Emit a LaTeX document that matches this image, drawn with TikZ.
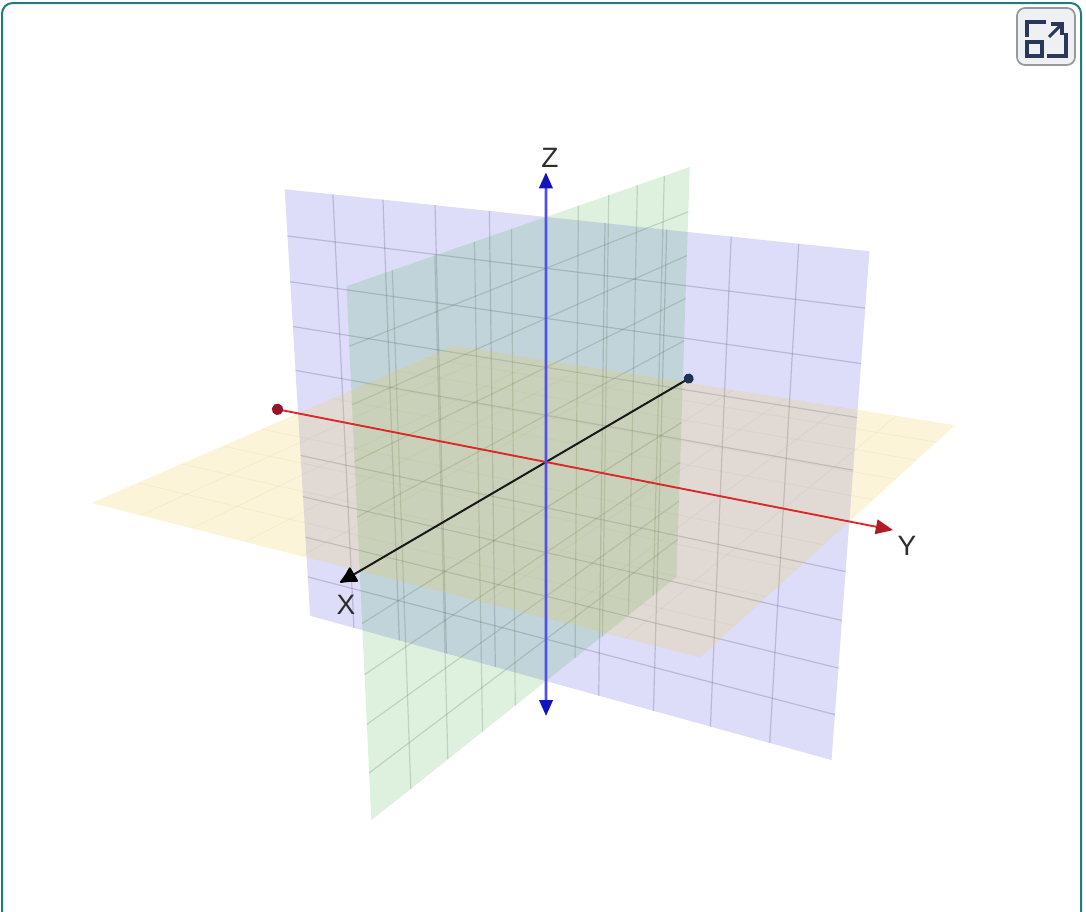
\documentclass[tikz,border=0pt]{standalone}
\usepackage{fontspec}
\setmainfont{Liberation Sans}
\usetikzlibrary{arrows.meta}
\definecolor{frameteal}{RGB}{30,125,125}
\definecolor{iconnavy}{RGB}{40,55,90}
\definecolor{iconfill}{RGB}{238,240,243}
\definecolor{icondraw}{RGB}{150,152,156}
\definecolor{planeblue}{RGB}{100,100,230}
\definecolor{planegreen}{RGB}{60,170,60}
\definecolor{planeyellow}{RGB}{240,200,60}
\definecolor{gridblue}{RGB}{70,70,110}
\definecolor{gridgreen}{RGB}{60,90,60}
\definecolor{gridyellow}{RGB}{150,130,60}
\definecolor{zblue}{RGB}{80,80,235}
\definecolor{zbluedark}{RGB}{20,20,190}
\definecolor{yred}{RGB}{220,40,40}
\definecolor{yreddark}{RGB}{150,20,40}
\definecolor{xblack}{RGB}{25,25,25}
\definecolor{xnavy}{RGB}{30,50,85}
\definecolor{labelgray}{RGB}{45,45,45}
% perspective camera: world (x,y,z), planes span [-1,1]
\def\camproj#1,#2,#3\relax{%
  \pgfmathsetmacro\camd{1-0.1532*(#1)-0.1005*(#2)-0.056*(#3)}%
  \pgfmathsetmacro\camu{(546-241.4*(#1)+218*(#2)-30.6*(#3))/\camd}%
  \pgfmathsetmacro\camv{(462+21.5*(#1)+7.1*(#2)-257.2*(#3))/\camd}%
  \pgfpointxy{\camu}{\camv}}
\tikzdeclarecoordinatesystem{cam}{\camproj#1\relax}
\tikzset{
  blueplane/.style={fill=planeblue,fill opacity=0.22},
  greenplane/.style={fill=planegreen,fill opacity=0.17},
  yellowplane/.style={fill=planeyellow,fill opacity=0.2},
  bluegrid/.style={draw=gridblue,draw opacity=0.24,line width=0.9pt},
  greengrid/.style={draw=gridgreen,draw opacity=0.2,line width=0.9pt},
  yellowgrid/.style={draw=gridyellow,draw opacity=0.06,line width=0.8pt},
  zaxisline/.style={draw=zblue,line width=2.1pt},
  yaxisline/.style={draw=yred,line width=1.4pt},
  xaxisline/.style={draw=xblack,line width=1.5pt},
  axlabel/.style={text=labelgray,font=\fontsize{21}{24}\selectfont,inner sep=0pt},
  iconline/.style={draw=iconnavy,line width=2.3pt,line cap=butt,line join=miter}
}
\begin{document}
\begin{tikzpicture}[x=0.75pt,y=-0.75pt]
\useasboundingbox (0,0) rectangle (1086,911);
\clip (0,0) rectangle (1086,911);
% frame
\draw[frameteal,line width=1.5pt,rounded corners=8] (2,930) -- (2,3) -- (1081,3) -- (1081,930);
% fullscreen icon
\draw[draw=icondraw,fill=iconfill,line width=1.3pt,rounded corners=6] (1017,8) rectangle (1075,65);
\draw[iconline] (1046,22) -- (1027,22) -- (1027,37);
\draw[iconline] (1027,42) rectangle (1042,56);
\draw[iconline] (1047,56) -- (1066,56) -- (1066,33);
\draw[iconline] (1049,37) -- (1061,25);
\draw[iconline] (1051,24) -- (1062,24) -- (1062,35);
% blue plane (x = 0)
\fill[blueplane] (cam cs:0,-1,1) -- (cam cs:0,1,1) -- (cam cs:0,1,-1) -- (cam cs:0,-1,-1) -- cycle;
\foreach \k in {1,...,9}{
  \pgfmathsetmacro\tv{-1+0.2*\k}
  \draw[bluegrid] (cam cs:0,\tv,-1) -- (cam cs:0,\tv,1);
  \draw[bluegrid] (cam cs:0,-1,\tv) -- (cam cs:0,1,\tv);
}
% green plane (y = 0)
\fill[greenplane] (cam cs:1,0,1) -- (cam cs:-1,0,1) -- (cam cs:-1,0,-1) -- (cam cs:1,0,-1) -- cycle;
\foreach \k in {1,...,9}{
  \pgfmathsetmacro\tv{-1+0.2*\k}
  \draw[greengrid] (cam cs:\tv,0,-1) -- (cam cs:\tv,0,1);
  \draw[greengrid] (cam cs:-1,0,\tv) -- (cam cs:1,0,\tv);
}
% yellow plane (z = 0)
\fill[yellowplane] (cam cs:1,-1,0) -- (cam cs:-1,-1,0) -- (cam cs:-1,1,0) -- (cam cs:1,1,0) -- cycle;
\foreach \k in {1,...,9}{
  \pgfmathsetmacro\tv{-1+0.2*\k}
  \draw[yellowgrid] (cam cs:\tv,-1,0) -- (cam cs:\tv,1,0);
  \draw[yellowgrid] (cam cs:-1,\tv,0) -- (cam cs:1,\tv,0);
}
% axes
\coordinate (xn) at (cam cs:-1.087,0,0);
\coordinate (xp) at (cam cs:1.088,0,0);
\coordinate (yn) at (cam cs:0,-1.117,0);
\coordinate (yp) at (cam cs:0,1.128,0);
\coordinate (zn) at (cam cs:0,0,-1.17);
\coordinate (zp) at (cam cs:0,0,1.17);
\draw[xaxisline,{Circle[length=7.5pt,color=xnavy]}-{Latex[length=14pt,width=14pt,color=black,round]}] (xn) -- (xp);
\draw[yaxisline,{Circle[length=8.5pt,color=yreddark]}-{Triangle[length=13pt,width=11pt,color=yreddark!60!yred]}] (yn) -- (yp);
\draw[zaxisline,{Triangle[length=12pt,width=10pt,color=zbluedark]}-{Triangle[length=12pt,width=10pt,color=zbluedark]}] (zn) -- (zp);
% labels
\node[axlabel] (zl) at (550,158) {Z};
\node[axlabel] (yl) at (907,546) {Y};
\node[axlabel] (xl) at (346,605) {X};
\end{tikzpicture}
\end{document}
